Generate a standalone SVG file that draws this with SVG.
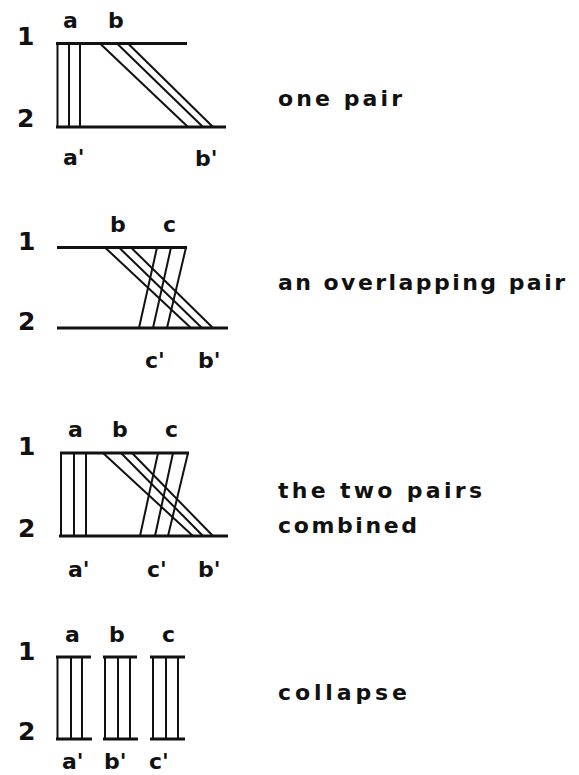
<svg xmlns="http://www.w3.org/2000/svg" width="579" height="775" viewBox="0 0 579 775">
<style>
text{font-family:"DejaVu Sans","Liberation Sans",Arial,sans-serif;font-weight:bold;fill:#111}
.num{font-size:25px}
.lab{font-size:22px}
.cap{font-size:22px}
.bar{stroke:#111;stroke-width:3.2;stroke-linecap:butt;fill:none}
.ln{stroke:#111;stroke-width:2;fill:none}
</style>
<rect width="579" height="775" fill="#fff"/>

<g id="panel1">
<g id="p1-chromosomes">
<line class="bar" x1="56" y1="43.5" x2="187" y2="43.5"/>
<line class="bar" x1="56" y1="127" x2="226" y2="127"/>
</g>
<g id="p1-connectors">
<line class="ln" x1="57.5" y1="43.5" x2="57.5" y2="127"/>
<line class="ln" x1="69" y1="43.5" x2="69" y2="127"/>
<line class="ln" x1="80" y1="43.5" x2="80" y2="127"/>
<line class="ln" x1="100" y1="43.5" x2="188" y2="127"/>
<line class="ln" x1="117" y1="43.5" x2="203" y2="127"/>
<line class="ln" x1="128" y1="43.5" x2="213" y2="127"/>
</g>
<text class="num" x="17" y="45">1</text>
<text class="num" x="17" y="127">2</text>
<text class="lab" x="63" y="28">a</text>
<text class="lab" x="108" y="28">b</text>
<text class="lab" x="63" y="165">a'</text>
<text class="lab" x="195" y="166">b'</text>
<text class="cap" x="278" y="106" textLength="124" lengthAdjust="spacing">one pair</text>
</g>

<g id="panel2">
<g id="p2-chromosomes">
<line class="bar" x1="57" y1="247.5" x2="187" y2="247.5"/>
<line class="bar" x1="57" y1="328" x2="228" y2="328"/>
</g>
<g id="p2-connectors">
<line class="ln" x1="105" y1="247.5" x2="191" y2="328"/>
<line class="ln" x1="119" y1="247.5" x2="202" y2="328"/>
<line class="ln" x1="131" y1="247.5" x2="213" y2="328"/>
<line class="ln" x1="157" y1="247.5" x2="139" y2="328"/>
<line class="ln" x1="171" y1="247.5" x2="153" y2="328"/>
<line class="ln" x1="186" y1="247.5" x2="167" y2="328"/>
</g>
<text class="num" x="18" y="250">1</text>
<text class="num" x="18" y="330">2</text>
<text class="lab" x="110" y="232">b</text>
<text class="lab" x="163" y="232">c</text>
<text class="lab" x="145" y="368">c'</text>
<text class="lab" x="198" y="368">b'</text>
<text class="cap" x="278" y="290" textLength="287" lengthAdjust="spacing">an overlapping pair</text>
</g>

<g id="panel3">
<g id="p3-chromosomes">
<line class="bar" x1="60" y1="453" x2="189" y2="453"/>
<line class="bar" x1="59" y1="536" x2="228" y2="536"/>
</g>
<g id="p3-connectors">
<line class="ln" x1="61" y1="453" x2="61" y2="536"/>
<line class="ln" x1="74" y1="453" x2="74" y2="536"/>
<line class="ln" x1="86" y1="453" x2="86" y2="536"/>
<line class="ln" x1="103" y1="453" x2="193" y2="536"/>
<line class="ln" x1="121" y1="453" x2="203" y2="536"/>
<line class="ln" x1="132" y1="453" x2="213" y2="536"/>
<line class="ln" x1="158" y1="453" x2="140" y2="536"/>
<line class="ln" x1="173" y1="453" x2="155" y2="536"/>
<line class="ln" x1="188" y1="453" x2="168" y2="536"/>
</g>
<text class="num" x="18" y="455">1</text>
<text class="num" x="18" y="537">2</text>
<text class="lab" x="68" y="437">a</text>
<text class="lab" x="112" y="437">b</text>
<text class="lab" x="165" y="437">c</text>
<text class="lab" x="68" y="577">a'</text>
<text class="lab" x="147" y="577">c'</text>
<text class="lab" x="198" y="577">b'</text>
<text class="cap" x="278" y="498" textLength="204" lengthAdjust="spacing">the two pairs</text>
<text class="cap" x="278" y="533" textLength="139" lengthAdjust="spacing">combined</text>
</g>

<g id="panel4">
<g id="p4-chromosomes">
<line class="bar" x1="56" y1="657" x2="91" y2="657"/>
<line class="bar" x1="103" y1="657" x2="137" y2="657"/>
<line class="bar" x1="150" y1="657" x2="185" y2="657"/>
<line class="bar" x1="56" y1="739" x2="92" y2="739"/>
<line class="bar" x1="103" y1="739" x2="138" y2="739"/>
<line class="bar" x1="150" y1="739" x2="185" y2="739"/>
</g>
<g id="p4-connectors">
<line class="ln" x1="57.5" y1="657" x2="57.5" y2="739"/>
<line class="ln" x1="71" y1="657" x2="71" y2="739"/>
<line class="ln" x1="82" y1="657" x2="82" y2="739"/>
<line class="ln" x1="105" y1="657" x2="105" y2="739"/>
<line class="ln" x1="118" y1="657" x2="118" y2="739"/>
<line class="ln" x1="130" y1="657" x2="130" y2="739"/>
<line class="ln" x1="153" y1="657" x2="153" y2="739"/>
<line class="ln" x1="166" y1="657" x2="166" y2="739"/>
<line class="ln" x1="178" y1="657" x2="178" y2="739"/>
</g>
<text class="num" x="18" y="660">1</text>
<text class="num" x="18" y="740">2</text>
<text class="lab" x="65" y="642">a</text>
<text class="lab" x="109" y="642">b</text>
<text class="lab" x="162" y="642">c</text>
<text class="lab" x="62" y="769">a'</text>
<text class="lab" x="104" y="769">b'</text>
<text class="lab" x="149" y="769">c'</text>
<text class="cap" x="278" y="700" textLength="129" lengthAdjust="spacing">collapse</text>
</g>
</svg>
